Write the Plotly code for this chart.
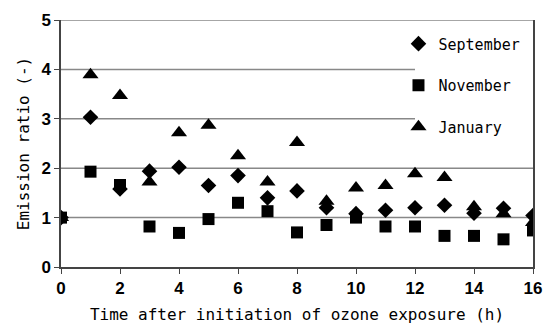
import plotly.graph_objects as go

hours = list(range(0, 17))
september = [1.0, 3.03, 1.58, 1.94, 2.02, 1.65, 1.85, 1.40, 1.54, 1.20, 1.08, 1.15, 1.20, 1.25, 1.09, 1.19, 1.04]
november = [1.0, 1.93, 1.66, 0.82, 0.69, 0.97, 1.30, 1.13, 0.70, 0.85, 1.00, 0.82, 0.82, 0.63, 0.63, 0.56, 0.74]
january = [1.0, 3.89, 3.47, 1.72, 2.72, 2.87, 2.25, 1.72, 2.52, 1.33, 1.60, 1.65, 1.89, 1.81, 1.22, 1.08, 0.90]
series_names = ["September", "November", "January"]
x_ticks = [0, 2, 4, 6, 8, 10, 12, 14, 16]
y_ticks = [0, 1, 2, 3, 4, 5]

fig = go.Figure()
symbols = ["diamond", "square", "triangle-up"]
sizes = [12, 12, 14]
for i, (name, vals) in enumerate(zip(series_names, [september, november, january])):
    fig.add_trace(go.Scatter(
        x=hours, y=vals, mode="markers", name=name,
        legendgroup=name,
        marker=dict(symbol=symbols[i], size=sizes[i], color="black"),
    ))

# horizontal gridlines; those behind the legend stop where the legend panel starts
legend_left = 0.75
for yv in y_ticks[1:]:
    x1 = legend_left if yv in (3, 4) else 1.0
    fig.add_shape(type="line", xref="x domain", yref="y",
                  x0=0, x1=x1, y0=yv, y1=yv,
                  line=dict(color="#888", width=1.5), layer="below")

tick_font = dict(family="Liberation Sans", size=17, color="black", weight="bold")

fig.update_layout(
    width=544, height=325,
    margin=dict(l=61, r=11, t=20, b=58),
    paper_bgcolor="white", plot_bgcolor="white",
    font=dict(family="DejaVu Sans Mono", color="black"),
    showlegend=True,
    legend=dict(
        x=0.715, y=0.97, xanchor="left", yanchor="top",
        bgcolor="rgba(0,0,0,0)", borderwidth=0,
        font=dict(family="DejaVu Sans Mono", size=15, color="black"),
        traceorder="grouped", tracegroupgap=19,
        itemwidth=30,
    ),
    xaxis=dict(
        range=[0, 16], tickvals=x_ticks, showgrid=False, zeroline=False,
        showline=True, linecolor="#444", linewidth=1.5, automargin=False,
        ticks="outside", ticklen=5, tickcolor="#444",
        tickfont=tick_font,
        title=dict(text="Time after initiation of ozone exposure (h)",
                   font=dict(family="DejaVu Sans Mono", size=16, color="black"), standoff=12),
    ),
    yaxis=dict(
        range=[0, 5], tickvals=y_ticks, showgrid=False,
        zeroline=False, showline=True, linecolor="#444", linewidth=1.5, mirror=True,
        automargin=False,
        ticks="outside", ticklen=5, tickcolor="#444",
        tickfont=tick_font,
        title=dict(text="Emission ratio (-)",
                   font=dict(family="DejaVu Sans Mono", size=16, color="black"), standoff=8),
    ),
)

fig.write_html("out.html")
